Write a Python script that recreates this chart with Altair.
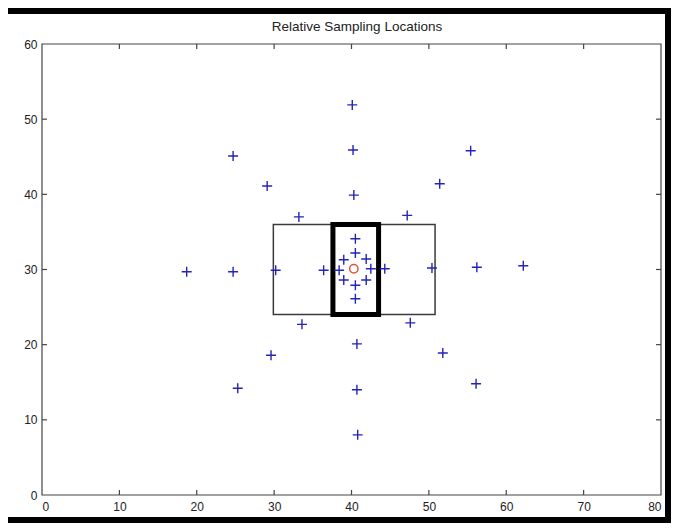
import altair as alt
import pandas as pd

# sampling locations (blue plus markers)
px = [40.1, 40.2, 40.3, 24.7, 55.4, 29.1, 51.4, 33.2, 47.2, 18.7, 24.7, 30.2,
      36.4, 38.4, 40.5, 40.5, 39.0, 41.9, 42.5, 44.3, 50.4, 56.2, 62.2, 39.0,
      41.9, 40.5, 40.5, 33.6, 47.6, 29.6, 40.7, 51.8, 25.3, 40.7, 56.1, 40.8]
py = [51.9, 45.9, 39.9, 45.1, 45.8, 41.1, 41.4, 37.0, 37.2, 29.7, 29.7, 29.9,
      29.9, 29.9, 34.1, 32.2, 31.3, 31.4, 30.1, 30.1, 30.2, 30.3, 30.5, 28.6,
      28.6, 27.9, 26.1, 22.7, 22.9, 18.6, 20.1, 18.9, 14.2, 14.0, 14.8, 8.0]

# centre (red circle)
cx = [40.3]
cy = [30.1]

# boxes
thin_box = {"x1": [29.9], "x2": [50.8], "y1": [24.0], "y2": [36.0]}
thick_box = {"x1": [37.6], "x2": [43.5], "y1": [24.0], "y2": [36.0]}

x_ticks = [0, 10, 20, 30, 40, 50, 60, 70, 80]
y_ticks = [0, 10, 20, 30, 40, 50, 60]
x_inner = [10, 20, 30, 40, 50, 60, 70]
y_inner = [10, 20, 30, 40, 50]

title_text = "Relative Sampling Locations"

W, H = 619, 451
FONT = "Liberation Sans"

xs = alt.Scale(domain=[0, 80], nice=False, zero=False)
ys = alt.Scale(domain=[0, 60], nice=False, zero=False)

x_axis = alt.Axis(values=x_ticks, ticks=False, domain=False, grid=False,
                  labelFont=FONT, labelFontSize=12, labelColor="#222",
                  labelPadding=6, zindex=1, title=None)
y_axis = alt.Axis(values=y_ticks, ticks=False, domain=False, grid=False,
                  labelFont=FONT, labelFontSize=12, labelColor="#222",
                  labelPadding=5, zindex=1, title=None)

pts = pd.DataFrame({"x": px, "y": py})
ctr = pd.DataFrame({"x": cx, "y": cy})
xt = pd.DataFrame({"v": x_inner})
yt = pd.DataFrame({"v": y_inner})

# white inner page over black background (frame)
page = alt.Chart(pd.DataFrame({"a": [0]})).mark_rect(color="white").encode(
    x=alt.value(-34), x2=alt.value(623), y=alt.value(-30), y2=alt.value(473))

frame = alt.Chart(pd.DataFrame({"a": [0]})).mark_rect(
    fill=None, stroke="#444", strokeWidth=1.2).encode(
    x=alt.datum(0, scale=xs, axis=x_axis, type="quantitative"),
    x2=alt.datum(80),
    y=alt.datum(0, scale=ys, axis=y_axis, type="quantitative"),
    y2=alt.datum(60))

tick_style = dict(color="#444", strokeWidth=1.2)
bt = alt.Chart(xt).mark_rule(**tick_style).encode(
    x=alt.X("v:Q", scale=xs), y=alt.value(H), y2=alt.value(H - 5))
tt = alt.Chart(xt).mark_rule(**tick_style).encode(
    x=alt.X("v:Q", scale=xs), y=alt.value(0), y2=alt.value(5))
lt = alt.Chart(yt).mark_rule(**tick_style).encode(
    y=alt.Y("v:Q", scale=ys), x=alt.value(0), x2=alt.value(5))
rt = alt.Chart(yt).mark_rule(**tick_style).encode(
    y=alt.Y("v:Q", scale=ys), x=alt.value(W), x2=alt.value(W - 5))

thin = alt.Chart(pd.DataFrame(thin_box)).mark_rect(
    fill=None, stroke="#3a3a3a", strokeWidth=1.5).encode(
    x=alt.X("x1:Q", scale=xs), x2="x2:Q",
    y=alt.Y("y1:Q", scale=ys), y2="y2:Q")
thick = alt.Chart(pd.DataFrame(thick_box)).mark_rect(
    fill=None, stroke="black", strokeWidth=5).encode(
    x=alt.X("x1:Q", scale=xs), x2="x2:Q",
    y=alt.Y("y1:Q", scale=ys), y2="y2:Q")

plus = alt.Chart(pts).mark_point(
    shape="M-1,0L1,0M0,-1L0,1", filled=False, size=100,
    stroke="#2424b8", strokeWidth=1.4, opacity=1).encode(
    x=alt.X("x:Q", scale=xs), y=alt.Y("y:Q", scale=ys))

circ = alt.Chart(ctr).mark_point(
    shape="circle", filled=False, size=70, stroke="#e0523c",
    strokeWidth=1.5, opacity=1).encode(
    x=alt.X("x:Q", scale=xs), y=alt.Y("y:Q", scale=ys))

title = alt.Chart(pd.DataFrame({"t": [title_text]})).mark_text(
    font=FONT, fontSize=13.5, color="#222", baseline="middle",
    align="center").encode(
    text="t:N", x=alt.value(315), y=alt.value(-17))

chart = alt.layer(page, frame, bt, tt, lt, rt, thin, thick, plus, circ, title).properties(
    width=W, height=H,
    autosize=alt.AutoSizeParams(type="none"),
    padding={"left": 34, "top": 36, "right": 10, "bottom": 28},
    background="black",
).configure_view(stroke=None)

chart.save("out.html", embed_options={"renderer": "svg", "actions": False})
